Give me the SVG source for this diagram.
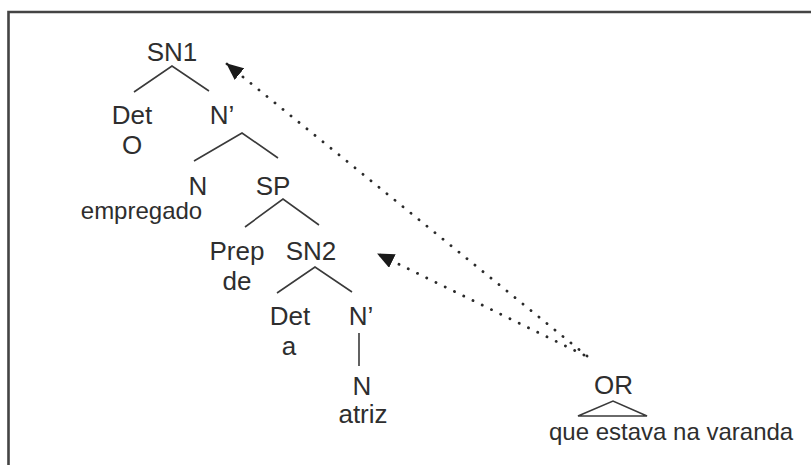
<svg xmlns="http://www.w3.org/2000/svg" width="811" height="465" viewBox="0 0 811 465">
  <style>
    .lbl { font-family: "Liberation Sans", Arial, sans-serif; font-size: 26px; fill: #2e2e2e; text-anchor: middle; }
    .word { font-family: "Liberation Sans", Arial, sans-serif; font-size: 24px; fill: #2e2e2e; }
    .mid { text-anchor: middle; }
    .br { fill: none; stroke: #3a3a3a; stroke-width: 1.6; }
    .dots { fill: none; stroke: #2a2a2a; stroke-width: 2.8; stroke-linecap: round; stroke-dasharray: 0.1 10.2; }
  </style>
  <defs>
    <marker id="head" viewBox="0 0 17 15" refX="16" refY="7.5" markerWidth="17" markerHeight="15" markerUnits="userSpaceOnUse" orient="auto">
      <path d="M0,0 L17,7.5 L0,15 Z" fill="#1a1a1a"/>
    </marker>
  </defs>

  <rect width="811" height="465" fill="#ffffff"/>
  <!-- frame -->
  <path d="M8.5,465 L8.5,12 L811,12" fill="none" stroke="#444" stroke-width="2.6"/>

  <g id="sn1">
    <text class="lbl" x="172" y="61">SN1</text>
    <path class="br" d="M134,92 L172,66 L209,91"/>
  </g>
  <g id="det1">
    <text class="lbl" x="132" y="124">Det</text>
    <text class="lbl" x="132" y="154">O</text>
  </g>
  <g id="nbar1">
    <text class="lbl" x="222" y="124">N’</text>
    <path class="br" d="M194,161 L242,133 L278,158"/>
  </g>
  <g id="n1">
    <text class="lbl" x="198" y="195">N</text>
    <text class="word mid" x="141.5" y="219">empregado</text>
  </g>
  <g id="sp">
    <text class="lbl" x="273" y="195">SP</text>
    <path class="br" d="M245,227 L283,199 L319,225"/>
  </g>
  <g id="prep">
    <text class="lbl" x="237" y="260">Prep</text>
    <text class="lbl" x="237" y="290">de</text>
  </g>
  <g id="sn2">
    <text class="lbl" x="311" y="260">SN2</text>
    <path class="br" d="M277,293 L315,267 L352,292"/>
  </g>
  <g id="det2">
    <text class="lbl" x="290" y="325">Det</text>
    <text class="lbl" x="289" y="355">a</text>
  </g>
  <g id="nbar2">
    <text class="lbl" x="361" y="325">N’</text>
    <path class="br" d="M359,333 L359,366"/>
  </g>
  <g id="n2">
    <text class="lbl" x="362" y="395">N</text>
    <text class="lbl" x="363" y="423">atriz</text>
  </g>
  <g id="or">
    <text class="lbl" x="613.5" y="394">OR</text>
    <path class="br" d="M578,416 L613,401 L647,416 Z" stroke-width="1.8"/>
    <text class="word" x="549" y="440">que estava na varanda</text>
  </g>

  <g id="connectors">
    <path class="dots" d="M587,356 L227,64" marker-end="url(#head)"/>
    <path class="dots" d="M584,355 L378,254" marker-end="url(#head)"/>
  </g>
</svg>
